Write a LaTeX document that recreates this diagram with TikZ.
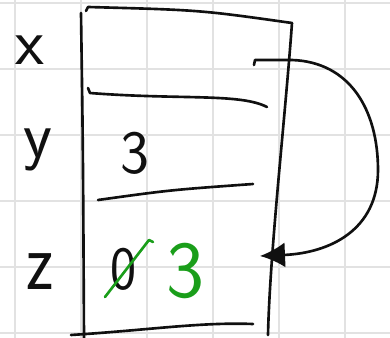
\documentclass[tikz,border=0pt]{standalone}
\usepackage{tikz}
\usetikzlibrary{arrows.meta}
\definecolor{sketchInk}{HTML}{101010}
\definecolor{sketchGreen}{HTML}{1A9E1A}
\definecolor{sketchGrid}{HTML}{E2E2E2}
\tikzset{
  every picture/.style={font=\sffamily, text=sketchInk},
  sketch grid/.style={draw=sketchGrid, line width=1.4pt},
  sketch line/.style={draw=sketchInk, line width=1.5pt, line cap=round, line join=round},
  sketch fix/.style={draw=sketchGreen, line width=1.5pt, line cap=round, line join=round},
  sketch arrow/.style={sketch line, -{Latex[length=5mm,width=5mm]}},
  var label/.style={inner sep=0pt, font=\sffamily\fontsize{38}{38}\selectfont},
  cell value/.style={inner sep=0pt, font=\sffamily\fontsize{35}{35}\selectfont}
}

\begin{document}
\begin{tikzpicture}[x=0.02cm,y=-0.02cm]
  \useasboundingbox (0,0) rectangle (390,338);
  \fill[white] (0,0) rectangle (390,338);
  % squared paper
  \foreach \gx in {15,81,147,213,279,345}
    \draw[sketch grid] (\gx,0) -- (\gx,338);
  \foreach \gy in {3,69,135,201,267,333}
    \draw[sketch grid] (0,\gy) -- (390,\gy);
  % the table
  \draw[sketch line] (81,13) .. controls (83,150) .. (84,338);
  \draw[sketch line] (86,11) -- (88,7) .. controls (200,10) .. (292,23);
  \draw[sketch line] (292,23) .. controls (285,120) and (270,250) .. (268,335);
  \draw[sketch line] (88,88) -- (90,93) .. controls (180,100) and (240,93) .. (267,107);
  \draw[sketch line] (98,200) .. controls (170,190) .. (253,184);
  \draw[sketch line] (71,335) .. controls (150,330) and (200,322) .. (253,324);
  % names and values
  \node[var label] (lblx) at (30,50) {x};
  \node[var label] (lbly) at (38,150) {y};
  \node[var label, yscale=1.25] (lblz) at (40,272) {z};
  \node[cell value] (valy) at (135,153) {3};
  \node[cell value, xscale=0.9] (oldz) at (124,269) {0};
  \node[cell value, text=sketchGreen, font=\sffamily\fontsize{46}{46}\selectfont] (newz) at (185,271) {3};
  \draw[sketch fix] (105,297) -- (149,240) -- (153,242);
  % reference from x to z
  \coordinate (xref) at (255,60);
  \coordinate (zcell) at (260,256);
  \draw[sketch arrow] (254,65) -- (xref) -- (292,60)
    .. controls (350,62) and (378,110) .. (378,170)
    .. controls (378,230) and (330,253) .. (zcell);
\end{tikzpicture}
\end{document}
